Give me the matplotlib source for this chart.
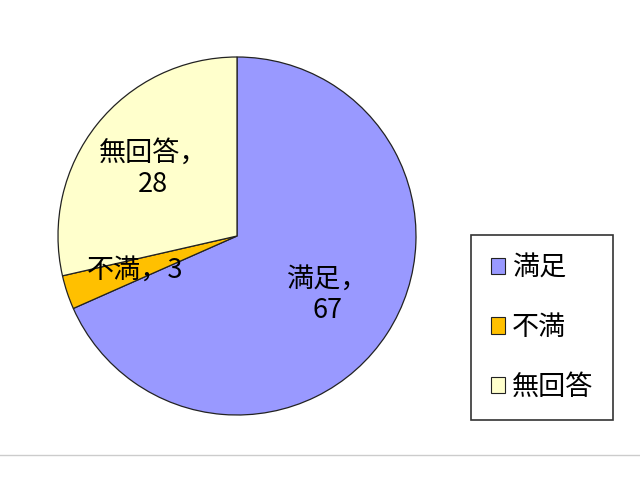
import matplotlib
matplotlib.use("Agg")
import matplotlib.pyplot as plt
from matplotlib.patches import Patch
from matplotlib.lines import Line2D

plt.rcParams['font.family'] = ['Noto Sans CJK JP', 'DejaVu Sans']

# データ
categories = ['満足', '不満', '無回答']
values = [67, 3, 28]
colors = ['#9999FF', '#FFC000', '#FFFFCC']

fig = plt.figure(figsize=(6.4, 4.8), dpi=100)
# 円の中心 (237, 236) px、半径 179 px
ax = fig.add_axes([(237 - 179) / 640, (480 - 236 - 179) / 480, 358 / 640, 358 / 480])

labels = [f'{c}，\n{v}' if c != '不満' else f'{c}，{v}' for c, v in zip(categories, values)]
wedges, texts = ax.pie(values, labels=labels, colors=colors, startangle=90,
                       counterclock=False, labeldistance=0.6,
                       wedgeprops=dict(edgecolor='#222222', linewidth=0.9),
                       textprops=dict(fontsize=19.5, color='black'))
for t in texts:
    t.set_ha('center')
    t.set_va('center')
    t.set_multialignment('center')
ax.set_xlim(-1, 1)
ax.set_ylim(-1, 1)
ax.set_aspect('equal')
ax.axis('off')

handles = [Patch(facecolor=c, edgecolor='#222222', linewidth=0.8) for c in colors]
leg = fig.legend(handles, categories, loc='upper left',
                 bbox_to_anchor=(471 / 640, 1 - 235 / 480),
                 fontsize=19.5, frameon=True, fancybox=False,
                 handlelength=0.55, handleheight=0.55, handletextpad=0.25,
                 labelspacing=1.2, borderpad=0.72, borderaxespad=0)
leg.get_frame().set_edgecolor('black')
leg.get_frame().set_linewidth(1.2)

# 下部の区切り線
fig.add_artist(Line2D([0, 1], [1 - 455 / 480, 1 - 455 / 480], color='#cccccc', linewidth=1))

fig.savefig('out.png', dpi=100)
